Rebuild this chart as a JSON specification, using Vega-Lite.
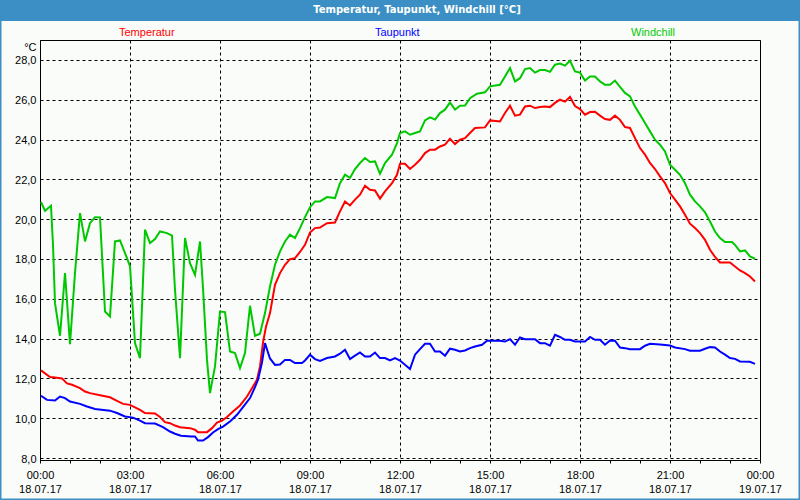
{
"$schema": "https://vega.github.io/schema/vega-lite/v6.json",
"width": 720, "height": 420,
"autosize": {"type": "none"},
"padding": {"left": 40, "top": 40, "right": 40, "bottom": 40},
"background": "#fafcfa",
"config": {"view": {"stroke": "#000000", "strokeWidth": 1}, "font": "Liberation Sans"},
"resolve": {"axis": {"x": "independent", "y": "independent"}},
"layer": [
{"data": {"values": [
{"t":"2017-07-18T00:02","s":"Temperatur","v":12.4},{"t":"2017-07-18T00:20","s":"Temperatur","v":12.07},{"t":"2017-07-18T00:30","s":"Temperatur","v":12.05},{"t":"2017-07-18T00:44","s":"Temperatur","v":12.0},{"t":"2017-07-18T00:54","s":"Temperatur","v":11.75},{"t":"2017-07-18T01:04","s":"Temperatur","v":11.68},{"t":"2017-07-18T01:20","s":"Temperatur","v":11.51},{"t":"2017-07-18T01:30","s":"Temperatur","v":11.34},{"t":"2017-07-18T01:40","s":"Temperatur","v":11.26},{"t":"2017-07-18T02:00","s":"Temperatur","v":11.15},{"t":"2017-07-18T02:20","s":"Temperatur","v":11.05},{"t":"2017-07-18T02:30","s":"Temperatur","v":10.92},{"t":"2017-07-18T02:46","s":"Temperatur","v":10.72},{"t":"2017-07-18T03:00","s":"Temperatur","v":10.67},{"t":"2017-07-18T03:20","s":"Temperatur","v":10.42},{"t":"2017-07-18T03:30","s":"Temperatur","v":10.26},{"t":"2017-07-18T03:50","s":"Temperatur","v":10.24},{"t":"2017-07-18T04:00","s":"Temperatur","v":10.06},{"t":"2017-07-18T04:10","s":"Temperatur","v":9.8},{"t":"2017-07-18T04:20","s":"Temperatur","v":9.75},{"t":"2017-07-18T04:30","s":"Temperatur","v":9.63},{"t":"2017-07-18T04:40","s":"Temperatur","v":9.55},{"t":"2017-07-18T05:00","s":"Temperatur","v":9.5},{"t":"2017-07-18T05:10","s":"Temperatur","v":9.42},{"t":"2017-07-18T05:16","s":"Temperatur","v":9.3},{"t":"2017-07-18T05:34","s":"Temperatur","v":9.3},{"t":"2017-07-18T05:44","s":"Temperatur","v":9.5},{"t":"2017-07-18T05:54","s":"Temperatur","v":9.78},{"t":"2017-07-18T06:04","s":"Temperatur","v":9.88},{"t":"2017-07-18T06:14","s":"Temperatur","v":10.06},{"t":"2017-07-18T06:26","s":"Temperatur","v":10.34},{"t":"2017-07-18T06:40","s":"Temperatur","v":10.64},{"t":"2017-07-18T06:54","s":"Temperatur","v":11.09},{"t":"2017-07-18T07:04","s":"Temperatur","v":11.51},{"t":"2017-07-18T07:14","s":"Temperatur","v":11.93},{"t":"2017-07-18T07:20","s":"Temperatur","v":12.6},{"t":"2017-07-18T07:26","s":"Temperatur","v":13.8},{"t":"2017-07-18T07:32","s":"Temperatur","v":14.6},{"t":"2017-07-18T07:40","s":"Temperatur","v":15.28},{"t":"2017-07-18T07:50","s":"Temperatur","v":16.7},{"t":"2017-07-18T08:00","s":"Temperatur","v":17.29},{"t":"2017-07-18T08:10","s":"Temperatur","v":17.71},{"t":"2017-07-18T08:20","s":"Temperatur","v":17.99},{"t":"2017-07-18T08:30","s":"Temperatur","v":18.04},{"t":"2017-07-18T08:40","s":"Temperatur","v":18.35},{"t":"2017-07-18T08:50","s":"Temperatur","v":18.71},{"t":"2017-07-18T09:00","s":"Temperatur","v":19.33},{"t":"2017-07-18T09:10","s":"Temperatur","v":19.55},{"t":"2017-07-18T09:20","s":"Temperatur","v":19.58},{"t":"2017-07-18T09:34","s":"Temperatur","v":19.8},{"t":"2017-07-18T09:50","s":"Temperatur","v":19.83},{"t":"2017-07-18T10:00","s":"Temperatur","v":20.39},{"t":"2017-07-18T10:10","s":"Temperatur","v":20.89},{"t":"2017-07-18T10:20","s":"Temperatur","v":20.69},{"t":"2017-07-18T10:30","s":"Temperatur","v":20.98},{"t":"2017-07-18T10:40","s":"Temperatur","v":21.23},{"t":"2017-07-18T10:50","s":"Temperatur","v":21.68},{"t":"2017-07-18T11:00","s":"Temperatur","v":21.48},{"t":"2017-07-18T11:10","s":"Temperatur","v":21.44},{"t":"2017-07-18T11:20","s":"Temperatur","v":21.03},{"t":"2017-07-18T11:30","s":"Temperatur","v":21.39},{"t":"2017-07-18T11:44","s":"Temperatur","v":21.81},{"t":"2017-07-18T11:54","s":"Temperatur","v":22.23},{"t":"2017-07-18T12:00","s":"Temperatur","v":22.78},{"t":"2017-07-18T12:10","s":"Temperatur","v":22.78},{"t":"2017-07-18T12:20","s":"Temperatur","v":22.52},{"t":"2017-07-18T12:30","s":"Temperatur","v":22.73},{"t":"2017-07-18T12:40","s":"Temperatur","v":22.98},{"t":"2017-07-18T12:50","s":"Temperatur","v":23.32},{"t":"2017-07-18T13:00","s":"Temperatur","v":23.49},{"t":"2017-07-18T13:10","s":"Temperatur","v":23.49},{"t":"2017-07-18T13:20","s":"Temperatur","v":23.65},{"t":"2017-07-18T13:30","s":"Temperatur","v":23.74},{"t":"2017-07-18T13:40","s":"Temperatur","v":24.04},{"t":"2017-07-18T13:50","s":"Temperatur","v":23.77},{"t":"2017-07-18T14:00","s":"Temperatur","v":23.99},{"t":"2017-07-18T14:10","s":"Temperatur","v":24.07},{"t":"2017-07-18T14:20","s":"Temperatur","v":24.33},{"t":"2017-07-18T14:30","s":"Temperatur","v":24.58},{"t":"2017-07-18T14:50","s":"Temperatur","v":24.61},{"t":"2017-07-18T15:00","s":"Temperatur","v":24.96},{"t":"2017-07-18T15:20","s":"Temperatur","v":24.91},{"t":"2017-07-18T15:30","s":"Temperatur","v":25.33},{"t":"2017-07-18T15:40","s":"Temperatur","v":25.7},{"t":"2017-07-18T15:50","s":"Temperatur","v":25.2},{"t":"2017-07-18T16:00","s":"Temperatur","v":25.25},{"t":"2017-07-18T16:10","s":"Temperatur","v":25.66},{"t":"2017-07-18T16:20","s":"Temperatur","v":25.7},{"t":"2017-07-18T16:30","s":"Temperatur","v":25.58},{"t":"2017-07-18T16:40","s":"Temperatur","v":25.63},{"t":"2017-07-18T16:50","s":"Temperatur","v":25.66},{"t":"2017-07-18T17:00","s":"Temperatur","v":25.63},{"t":"2017-07-18T17:10","s":"Temperatur","v":25.84},{"t":"2017-07-18T17:20","s":"Temperatur","v":26.0},{"t":"2017-07-18T17:30","s":"Temperatur","v":25.9},{"t":"2017-07-18T17:40","s":"Temperatur","v":26.14},{"t":"2017-07-18T17:50","s":"Temperatur","v":25.68},{"t":"2017-07-18T18:00","s":"Temperatur","v":25.53},{"t":"2017-07-18T18:10","s":"Temperatur","v":25.25},{"t":"2017-07-18T18:20","s":"Temperatur","v":25.38},{"t":"2017-07-18T18:30","s":"Temperatur","v":25.4},{"t":"2017-07-18T18:40","s":"Temperatur","v":25.2},{"t":"2017-07-18T18:50","s":"Temperatur","v":25.03},{"t":"2017-07-18T19:00","s":"Temperatur","v":24.99},{"t":"2017-07-18T19:10","s":"Temperatur","v":25.2},{"t":"2017-07-18T19:20","s":"Temperatur","v":24.99},{"t":"2017-07-18T19:30","s":"Temperatur","v":24.63},{"t":"2017-07-18T19:40","s":"Temperatur","v":24.58},{"t":"2017-07-18T19:50","s":"Temperatur","v":24.07},{"t":"2017-07-18T20:00","s":"Temperatur","v":23.57},{"t":"2017-07-18T20:10","s":"Temperatur","v":23.24},{"t":"2017-07-18T20:20","s":"Temperatur","v":22.82},{"t":"2017-07-18T20:30","s":"Temperatur","v":22.52},{"t":"2017-07-18T20:40","s":"Temperatur","v":22.15},{"t":"2017-07-18T20:50","s":"Temperatur","v":21.81},{"t":"2017-07-18T21:00","s":"Temperatur","v":21.31},{"t":"2017-07-18T21:10","s":"Temperatur","v":20.98},{"t":"2017-07-18T21:20","s":"Temperatur","v":20.64},{"t":"2017-07-18T21:30","s":"Temperatur","v":20.22},{"t":"2017-07-18T21:40","s":"Temperatur","v":19.77},{"t":"2017-07-18T21:50","s":"Temperatur","v":19.55},{"t":"2017-07-18T22:00","s":"Temperatur","v":19.3},{"t":"2017-07-18T22:10","s":"Temperatur","v":18.96},{"t":"2017-07-18T22:20","s":"Temperatur","v":18.46},{"t":"2017-07-18T22:30","s":"Temperatur","v":18.1},{"t":"2017-07-18T22:40","s":"Temperatur","v":17.82},{"t":"2017-07-18T23:00","s":"Temperatur","v":17.82},{"t":"2017-07-18T23:10","s":"Temperatur","v":17.62},{"t":"2017-07-18T23:20","s":"Temperatur","v":17.42},{"t":"2017-07-18T23:30","s":"Temperatur","v":17.29},{"t":"2017-07-18T23:40","s":"Temperatur","v":17.12},{"t":"2017-07-18T23:50","s":"Temperatur","v":16.87},
{"t":"2017-07-18T00:02","s":"Taupunkt","v":11.13},{"t":"2017-07-18T00:14","s":"Taupunkt","v":10.92},{"t":"2017-07-18T00:30","s":"Taupunkt","v":10.89},{"t":"2017-07-18T00:40","s":"Taupunkt","v":11.09},{"t":"2017-07-18T00:50","s":"Taupunkt","v":11.01},{"t":"2017-07-18T01:00","s":"Taupunkt","v":10.84},{"t":"2017-07-18T01:20","s":"Taupunkt","v":10.72},{"t":"2017-07-18T01:34","s":"Taupunkt","v":10.59},{"t":"2017-07-18T01:50","s":"Taupunkt","v":10.46},{"t":"2017-07-18T02:20","s":"Taupunkt","v":10.38},{"t":"2017-07-18T02:34","s":"Taupunkt","v":10.26},{"t":"2017-07-18T02:50","s":"Taupunkt","v":10.09},{"t":"2017-07-18T03:06","s":"Taupunkt","v":10.03},{"t":"2017-07-18T03:20","s":"Taupunkt","v":9.88},{"t":"2017-07-18T03:30","s":"Taupunkt","v":9.75},{"t":"2017-07-18T03:50","s":"Taupunkt","v":9.73},{"t":"2017-07-18T04:06","s":"Taupunkt","v":9.55},{"t":"2017-07-18T04:20","s":"Taupunkt","v":9.33},{"t":"2017-07-18T04:30","s":"Taupunkt","v":9.22},{"t":"2017-07-18T04:42","s":"Taupunkt","v":9.12},{"t":"2017-07-18T05:02","s":"Taupunkt","v":9.08},{"t":"2017-07-18T05:10","s":"Taupunkt","v":9.08},{"t":"2017-07-18T05:16","s":"Taupunkt","v":8.88},{"t":"2017-07-18T05:26","s":"Taupunkt","v":8.88},{"t":"2017-07-18T05:36","s":"Taupunkt","v":9.05},{"t":"2017-07-18T05:46","s":"Taupunkt","v":9.28},{"t":"2017-07-18T05:56","s":"Taupunkt","v":9.45},{"t":"2017-07-18T06:06","s":"Taupunkt","v":9.58},{"t":"2017-07-18T06:20","s":"Taupunkt","v":9.83},{"t":"2017-07-18T06:34","s":"Taupunkt","v":10.17},{"t":"2017-07-18T06:46","s":"Taupunkt","v":10.56},{"t":"2017-07-18T07:00","s":"Taupunkt","v":11.01},{"t":"2017-07-18T07:10","s":"Taupunkt","v":11.56},{"t":"2017-07-18T07:16","s":"Taupunkt","v":11.93},{"t":"2017-07-18T07:24","s":"Taupunkt","v":12.8},{"t":"2017-07-18T07:30","s":"Taupunkt","v":13.77},{"t":"2017-07-18T07:36","s":"Taupunkt","v":13.3},{"t":"2017-07-18T07:40","s":"Taupunkt","v":13.0},{"t":"2017-07-18T07:50","s":"Taupunkt","v":12.68},{"t":"2017-07-18T08:00","s":"Taupunkt","v":12.7},{"t":"2017-07-18T08:10","s":"Taupunkt","v":12.93},{"t":"2017-07-18T08:20","s":"Taupunkt","v":12.93},{"t":"2017-07-18T08:30","s":"Taupunkt","v":12.77},{"t":"2017-07-18T08:44","s":"Taupunkt","v":12.77},{"t":"2017-07-18T08:50","s":"Taupunkt","v":12.9},{"t":"2017-07-18T09:00","s":"Taupunkt","v":13.19},{"t":"2017-07-18T09:10","s":"Taupunkt","v":12.97},{"t":"2017-07-18T09:20","s":"Taupunkt","v":12.88},{"t":"2017-07-18T09:34","s":"Taupunkt","v":13.02},{"t":"2017-07-18T09:50","s":"Taupunkt","v":13.1},{"t":"2017-07-18T10:00","s":"Taupunkt","v":13.24},{"t":"2017-07-18T10:10","s":"Taupunkt","v":13.44},{"t":"2017-07-18T10:20","s":"Taupunkt","v":12.97},{"t":"2017-07-18T10:30","s":"Taupunkt","v":13.14},{"t":"2017-07-18T10:40","s":"Taupunkt","v":13.3},{"t":"2017-07-18T10:50","s":"Taupunkt","v":13.1},{"t":"2017-07-18T11:00","s":"Taupunkt","v":13.1},{"t":"2017-07-18T11:10","s":"Taupunkt","v":13.3},{"t":"2017-07-18T11:20","s":"Taupunkt","v":13.02},{"t":"2017-07-18T11:30","s":"Taupunkt","v":13.02},{"t":"2017-07-18T11:40","s":"Taupunkt","v":12.9},{"t":"2017-07-18T11:50","s":"Taupunkt","v":13.02},{"t":"2017-07-18T12:00","s":"Taupunkt","v":12.9},{"t":"2017-07-18T12:10","s":"Taupunkt","v":12.68},{"t":"2017-07-18T12:20","s":"Taupunkt","v":12.47},{"t":"2017-07-18T12:30","s":"Taupunkt","v":13.19},{"t":"2017-07-18T12:40","s":"Taupunkt","v":13.47},{"t":"2017-07-18T12:50","s":"Taupunkt","v":13.74},{"t":"2017-07-18T13:00","s":"Taupunkt","v":13.74},{"t":"2017-07-18T13:10","s":"Taupunkt","v":13.35},{"t":"2017-07-18T13:20","s":"Taupunkt","v":13.35},{"t":"2017-07-18T13:30","s":"Taupunkt","v":13.14},{"t":"2017-07-18T13:40","s":"Taupunkt","v":13.49},{"t":"2017-07-18T13:50","s":"Taupunkt","v":13.44},{"t":"2017-07-18T14:00","s":"Taupunkt","v":13.35},{"t":"2017-07-18T14:10","s":"Taupunkt","v":13.4},{"t":"2017-07-18T14:20","s":"Taupunkt","v":13.52},{"t":"2017-07-18T14:30","s":"Taupunkt","v":13.6},{"t":"2017-07-18T14:44","s":"Taupunkt","v":13.69},{"t":"2017-07-18T14:54","s":"Taupunkt","v":13.89},{"t":"2017-07-18T15:20","s":"Taupunkt","v":13.89},{"t":"2017-07-18T15:30","s":"Taupunkt","v":13.85},{"t":"2017-07-18T15:40","s":"Taupunkt","v":13.97},{"t":"2017-07-18T15:50","s":"Taupunkt","v":13.69},{"t":"2017-07-18T16:00","s":"Taupunkt","v":14.06},{"t":"2017-07-18T16:10","s":"Taupunkt","v":13.97},{"t":"2017-07-18T16:30","s":"Taupunkt","v":13.97},{"t":"2017-07-18T16:40","s":"Taupunkt","v":13.77},{"t":"2017-07-18T16:50","s":"Taupunkt","v":13.77},{"t":"2017-07-18T17:00","s":"Taupunkt","v":13.64},{"t":"2017-07-18T17:10","s":"Taupunkt","v":14.19},{"t":"2017-07-18T17:20","s":"Taupunkt","v":14.08},{"t":"2017-07-18T17:30","s":"Taupunkt","v":13.94},{"t":"2017-07-18T17:40","s":"Taupunkt","v":13.94},{"t":"2017-07-18T17:50","s":"Taupunkt","v":13.85},{"t":"2017-07-18T18:10","s":"Taupunkt","v":13.85},{"t":"2017-07-18T18:20","s":"Taupunkt","v":14.08},{"t":"2017-07-18T18:30","s":"Taupunkt","v":13.94},{"t":"2017-07-18T18:40","s":"Taupunkt","v":13.94},{"t":"2017-07-18T18:50","s":"Taupunkt","v":13.69},{"t":"2017-07-18T19:00","s":"Taupunkt","v":13.9},{"t":"2017-07-18T19:10","s":"Taupunkt","v":13.89},{"t":"2017-07-18T19:20","s":"Taupunkt","v":13.55},{"t":"2017-07-18T19:30","s":"Taupunkt","v":13.52},{"t":"2017-07-18T19:40","s":"Taupunkt","v":13.47},{"t":"2017-07-18T20:00","s":"Taupunkt","v":13.47},{"t":"2017-07-18T20:10","s":"Taupunkt","v":13.64},{"t":"2017-07-18T20:20","s":"Taupunkt","v":13.74},{"t":"2017-07-18T20:40","s":"Taupunkt","v":13.7},{"t":"2017-07-18T21:00","s":"Taupunkt","v":13.65},{"t":"2017-07-18T21:10","s":"Taupunkt","v":13.55},{"t":"2017-07-18T21:30","s":"Taupunkt","v":13.47},{"t":"2017-07-18T21:40","s":"Taupunkt","v":13.39},{"t":"2017-07-18T22:00","s":"Taupunkt","v":13.39},{"t":"2017-07-18T22:10","s":"Taupunkt","v":13.49},{"t":"2017-07-18T22:20","s":"Taupunkt","v":13.57},{"t":"2017-07-18T22:30","s":"Taupunkt","v":13.55},{"t":"2017-07-18T22:40","s":"Taupunkt","v":13.35},{"t":"2017-07-18T22:50","s":"Taupunkt","v":13.19},{"t":"2017-07-18T23:00","s":"Taupunkt","v":13.02},{"t":"2017-07-18T23:10","s":"Taupunkt","v":12.98},{"t":"2017-07-18T23:20","s":"Taupunkt","v":12.85},{"t":"2017-07-18T23:40","s":"Taupunkt","v":12.83},{"t":"2017-07-18T23:50","s":"Taupunkt","v":12.73},
{"t":"2017-07-18T00:02","s":"Windchill","v":20.86},{"t":"2017-07-18T00:10","s":"Windchill","v":20.42},{"t":"2017-07-18T00:22","s":"Windchill","v":20.67},{"t":"2017-07-18T00:26","s":"Windchill","v":18.71},{"t":"2017-07-18T00:30","s":"Windchill","v":15.78},{"t":"2017-07-18T00:40","s":"Windchill","v":14.14},{"t":"2017-07-18T00:50","s":"Windchill","v":17.29},{"t":"2017-07-18T01:00","s":"Windchill","v":13.72},{"t":"2017-07-18T01:10","s":"Windchill","v":17.3},{"t":"2017-07-18T01:20","s":"Windchill","v":20.3},{"t":"2017-07-18T01:30","s":"Windchill","v":18.88},{"t":"2017-07-18T01:40","s":"Windchill","v":19.8},{"t":"2017-07-18T01:50","s":"Windchill","v":20.1},{"t":"2017-07-18T02:00","s":"Windchill","v":20.09},{"t":"2017-07-18T02:10","s":"Windchill","v":15.36},{"t":"2017-07-18T02:20","s":"Windchill","v":15.11},{"t":"2017-07-18T02:30","s":"Windchill","v":18.88},{"t":"2017-07-18T02:40","s":"Windchill","v":18.93},{"t":"2017-07-18T02:54","s":"Windchill","v":18.04},{"t":"2017-07-18T03:00","s":"Windchill","v":17.62},{"t":"2017-07-18T03:10","s":"Windchill","v":13.77},{"t":"2017-07-18T03:20","s":"Windchill","v":13.02},{"t":"2017-07-18T03:30","s":"Windchill","v":19.47},{"t":"2017-07-18T03:40","s":"Windchill","v":18.8},{"t":"2017-07-18T03:50","s":"Windchill","v":19.0},{"t":"2017-07-18T04:00","s":"Windchill","v":19.38},{"t":"2017-07-18T04:14","s":"Windchill","v":19.3},{"t":"2017-07-18T04:24","s":"Windchill","v":19.17},{"t":"2017-07-18T04:30","s":"Windchill","v":16.45},{"t":"2017-07-18T04:40","s":"Windchill","v":13.02},{"t":"2017-07-18T04:50","s":"Windchill","v":19.05},{"t":"2017-07-18T05:00","s":"Windchill","v":17.79},{"t":"2017-07-18T05:10","s":"Windchill","v":17.2},{"t":"2017-07-18T05:20","s":"Windchill","v":18.88},{"t":"2017-07-18T05:26","s":"Windchill","v":16.54},{"t":"2017-07-18T05:34","s":"Windchill","v":12.93},{"t":"2017-07-18T05:40","s":"Windchill","v":11.26},{"t":"2017-07-18T05:50","s":"Windchill","v":12.6},{"t":"2017-07-18T06:00","s":"Windchill","v":15.36},{"t":"2017-07-18T06:10","s":"Windchill","v":15.33},{"t":"2017-07-18T06:20","s":"Windchill","v":13.35},{"t":"2017-07-18T06:30","s":"Windchill","v":13.27},{"t":"2017-07-18T06:40","s":"Windchill","v":12.52},{"t":"2017-07-18T06:50","s":"Windchill","v":13.27},{"t":"2017-07-18T07:00","s":"Windchill","v":15.65},{"t":"2017-07-18T07:10","s":"Windchill","v":14.14},{"t":"2017-07-18T07:20","s":"Windchill","v":14.24},{"t":"2017-07-18T07:30","s":"Windchill","v":15.28},{"t":"2017-07-18T07:40","s":"Windchill","v":16.62},{"t":"2017-07-18T07:50","s":"Windchill","v":17.71},{"t":"2017-07-18T08:00","s":"Windchill","v":18.38},{"t":"2017-07-18T08:10","s":"Windchill","v":18.88},{"t":"2017-07-18T08:20","s":"Windchill","v":19.22},{"t":"2017-07-18T08:30","s":"Windchill","v":19.05},{"t":"2017-07-18T08:40","s":"Windchill","v":19.55},{"t":"2017-07-18T08:50","s":"Windchill","v":20.1},{"t":"2017-07-18T09:00","s":"Windchill","v":20.6},{"t":"2017-07-18T09:10","s":"Windchill","v":20.89},{"t":"2017-07-18T09:20","s":"Windchill","v":20.89},{"t":"2017-07-18T09:34","s":"Windchill","v":21.11},{"t":"2017-07-18T09:50","s":"Windchill","v":21.06},{"t":"2017-07-18T10:00","s":"Windchill","v":21.81},{"t":"2017-07-18T10:10","s":"Windchill","v":22.23},{"t":"2017-07-18T10:20","s":"Windchill","v":22.07},{"t":"2017-07-18T10:30","s":"Windchill","v":22.52},{"t":"2017-07-18T10:40","s":"Windchill","v":22.82},{"t":"2017-07-18T10:50","s":"Windchill","v":23.07},{"t":"2017-07-18T11:00","s":"Windchill","v":22.87},{"t":"2017-07-18T11:10","s":"Windchill","v":22.9},{"t":"2017-07-18T11:20","s":"Windchill","v":22.28},{"t":"2017-07-18T11:30","s":"Windchill","v":22.82},{"t":"2017-07-18T11:44","s":"Windchill","v":23.24},{"t":"2017-07-18T11:54","s":"Windchill","v":23.82},{"t":"2017-07-18T12:00","s":"Windchill","v":24.33},{"t":"2017-07-18T12:10","s":"Windchill","v":24.41},{"t":"2017-07-18T12:20","s":"Windchill","v":24.24},{"t":"2017-07-18T12:30","s":"Windchill","v":24.33},{"t":"2017-07-18T12:40","s":"Windchill","v":24.41},{"t":"2017-07-18T12:50","s":"Windchill","v":24.96},{"t":"2017-07-18T13:00","s":"Windchill","v":25.11},{"t":"2017-07-18T13:10","s":"Windchill","v":25.0},{"t":"2017-07-18T13:20","s":"Windchill","v":25.33},{"t":"2017-07-18T13:30","s":"Windchill","v":25.5},{"t":"2017-07-18T13:40","s":"Windchill","v":25.86},{"t":"2017-07-18T13:50","s":"Windchill","v":25.5},{"t":"2017-07-18T14:00","s":"Windchill","v":25.7},{"t":"2017-07-18T14:10","s":"Windchill","v":25.71},{"t":"2017-07-18T14:20","s":"Windchill","v":26.08},{"t":"2017-07-18T14:34","s":"Windchill","v":26.3},{"t":"2017-07-18T14:50","s":"Windchill","v":26.37},{"t":"2017-07-18T15:00","s":"Windchill","v":26.67},{"t":"2017-07-18T15:20","s":"Windchill","v":26.75},{"t":"2017-07-18T15:30","s":"Windchill","v":27.17},{"t":"2017-07-18T15:40","s":"Windchill","v":27.59},{"t":"2017-07-18T15:50","s":"Windchill","v":26.92},{"t":"2017-07-18T16:00","s":"Windchill","v":27.08},{"t":"2017-07-18T16:10","s":"Windchill","v":27.54},{"t":"2017-07-18T16:20","s":"Windchill","v":27.59},{"t":"2017-07-18T16:30","s":"Windchill","v":27.36},{"t":"2017-07-18T16:40","s":"Windchill","v":27.49},{"t":"2017-07-18T16:50","s":"Windchill","v":27.49},{"t":"2017-07-18T17:00","s":"Windchill","v":27.4},{"t":"2017-07-18T17:10","s":"Windchill","v":27.76},{"t":"2017-07-18T17:20","s":"Windchill","v":27.82},{"t":"2017-07-18T17:30","s":"Windchill","v":27.71},{"t":"2017-07-18T17:40","s":"Windchill","v":27.96},{"t":"2017-07-18T17:50","s":"Windchill","v":27.42},{"t":"2017-07-18T18:00","s":"Windchill","v":27.36},{"t":"2017-07-18T18:10","s":"Windchill","v":26.96},{"t":"2017-07-18T18:20","s":"Windchill","v":27.17},{"t":"2017-07-18T18:30","s":"Windchill","v":27.17},{"t":"2017-07-18T18:40","s":"Windchill","v":26.92},{"t":"2017-07-18T18:50","s":"Windchill","v":26.75},{"t":"2017-07-18T19:00","s":"Windchill","v":26.75},{"t":"2017-07-18T19:10","s":"Windchill","v":26.96},{"t":"2017-07-18T19:20","s":"Windchill","v":26.65},{"t":"2017-07-18T19:30","s":"Windchill","v":26.34},{"t":"2017-07-18T19:40","s":"Windchill","v":26.17},{"t":"2017-07-18T19:50","s":"Windchill","v":25.66},{"t":"2017-07-18T20:00","s":"Windchill","v":25.25},{"t":"2017-07-18T20:10","s":"Windchill","v":24.83},{"t":"2017-07-18T20:20","s":"Windchill","v":24.41},{"t":"2017-07-18T20:30","s":"Windchill","v":23.99},{"t":"2017-07-18T20:40","s":"Windchill","v":23.74},{"t":"2017-07-18T20:50","s":"Windchill","v":23.4},{"t":"2017-07-18T21:00","s":"Windchill","v":22.73},{"t":"2017-07-18T21:10","s":"Windchill","v":22.48},{"t":"2017-07-18T21:20","s":"Windchill","v":22.23},{"t":"2017-07-18T21:30","s":"Windchill","v":21.81},{"t":"2017-07-18T21:40","s":"Windchill","v":21.23},{"t":"2017-07-18T21:50","s":"Windchill","v":20.89},{"t":"2017-07-18T22:00","s":"Windchill","v":20.64},{"t":"2017-07-18T22:10","s":"Windchill","v":20.34},{"t":"2017-07-18T22:20","s":"Windchill","v":19.88},{"t":"2017-07-18T22:30","s":"Windchill","v":19.38},{"t":"2017-07-18T22:40","s":"Windchill","v":19.05},{"t":"2017-07-18T22:50","s":"Windchill","v":18.85},{"t":"2017-07-18T23:04","s":"Windchill","v":18.85},{"t":"2017-07-18T23:10","s":"Windchill","v":18.71},{"t":"2017-07-18T23:20","s":"Windchill","v":18.38},{"t":"2017-07-18T23:30","s":"Windchill","v":18.43},{"t":"2017-07-18T23:40","s":"Windchill","v":18.13},{"t":"2017-07-18T23:50","s":"Windchill","v":18.01}
]},
 "mark": {"type": "line", "strokeWidth": 2},
 "encoding": {
  "x": {"field": "t", "type": "temporal",
   "scale": {"domain": [{"year": 2017, "month": 7, "date": 18}, {"year": 2017, "month": 7, "date": 19}], "nice": false},
   "axis": {"title": null, "values": [
     {"year":2017,"month":7,"date":18,"hours":0},{"year":2017,"month":7,"date":18,"hours":1},{"year":2017,"month":7,"date":18,"hours":2},{"year":2017,"month":7,"date":18,"hours":3},{"year":2017,"month":7,"date":18,"hours":4},{"year":2017,"month":7,"date":18,"hours":5},{"year":2017,"month":7,"date":18,"hours":6},{"year":2017,"month":7,"date":18,"hours":7},{"year":2017,"month":7,"date":18,"hours":8},{"year":2017,"month":7,"date":18,"hours":9},{"year":2017,"month":7,"date":18,"hours":10},{"year":2017,"month":7,"date":18,"hours":11},{"year":2017,"month":7,"date":18,"hours":12},{"year":2017,"month":7,"date":18,"hours":13},{"year":2017,"month":7,"date":18,"hours":14},{"year":2017,"month":7,"date":18,"hours":15},{"year":2017,"month":7,"date":18,"hours":16},{"year":2017,"month":7,"date":18,"hours":17},{"year":2017,"month":7,"date":18,"hours":18},{"year":2017,"month":7,"date":18,"hours":19},{"year":2017,"month":7,"date":18,"hours":20},{"year":2017,"month":7,"date":18,"hours":21},{"year":2017,"month":7,"date":18,"hours":22},{"year":2017,"month":7,"date":18,"hours":23},{"year":2017,"month":7,"date":19,"hours":0}],
    "grid": true, "gridColor": "#000000", "gridDash": [3, 3],
    "gridOpacity": {"condition": {"test": "hours(datum.value) % 3 == 0", "value": 1}, "value": 0},
    "domainColor": "#000000", "tickColor": "#000000", "tickSize": 3, "labelColor": "#000000", "labelFont": "Liberation Sans", "labelFontSize": 11,
    "labelPadding": 6, "labelLineHeight": 14, "labelOverlap": false, "labelFlush": false, "labelBound": false,
    "labelExpr": "hours(datum.value) % 3 == 0 ? [timeFormat(datum.value, '%H:%M'), timeFormat(datum.value, '%d.%m.%y')] : ''"}},
  "y": {"field": "v", "type": "quantitative",
   "scale": {"domain": [7.9, 29.0], "nice": false, "zero": false},
   "axis": {"title": "°C", "titleAngle": 0, "titleX": -4, "titleY": 10, "titleAlign": "right", "titleBaseline": "alphabetic", "titleFontWeight": "normal", "titleFont": "Liberation Sans", "titleFontSize": 11, "titleColor": "#000000",
    "values": [8, 10, 12, 14, 16, 18, 20, 22, 24, 26, 28], "ticks": false, "tickSize": 0, "labelPadding": 4,
    "labelExpr": "replace(format(datum.value, '.1f'), '.', ',')", "grid": true, "gridColor": "#000000", "gridDash": [3, 3],
    "domainColor": "#000000", "labelColor": "#000000", "labelFont": "Liberation Sans", "labelFontSize": 11, "labelOffset": 1}},
  "color": {"field": "s", "type": "nominal",
   "scale": {"domain": ["Temperatur", "Taupunkt", "Windchill"], "range": ["#ff0000", "#0000ff", "#00c800"]},
   "legend": {"orient": "none", "legendX": 68, "legendY": -13, "direction": "horizontal", "columns": 3, "gridAlign": "all", "columnPadding": 189,
    "title": null, "symbolSize": 0, "symbolStrokeWidth": 0, "symbolOpacity": 0, "labelOffset": 0, "labelFont": "Liberation Sans", "labelFontSize": 11, "padding": 0,
    "encode": {"labels": {"update": {"fill": {"scale": "color", "field": "value"}}}}}}
 }},
{"data": {"values": [{}]}, "mark": {"type": "rect", "fill": "#3b8fc4", "clip": false},
 "encoding": {
  "x": {"datum": {"year": 2017, "month": 7, "date": 17, "hours": 22, "minutes": 30}, "type": "temporal", "axis": null},
  "x2": {"datum": {"year": 2017, "month": 7, "date": 19, "hours": 1, "minutes": 30}},
  "y": {"datum": 31.3, "type": "quantitative", "axis": null},
  "y2": {"datum": 29.96}}},
{"data": {"values": [{}]}, "mark": {"type": "rect", "fill": "transparent", "stroke": "#3b8fc4", "strokeWidth": 3, "clip": false},
 "encoding": {
  "x": {"datum": {"year": 2017, "month": 7, "date": 17, "hours": 22, "minutes": 40}, "type": "temporal", "axis": null},
  "x2": {"datum": {"year": 2017, "month": 7, "date": 19, "hours": 1, "minutes": 20}},
  "y": {"datum": 31.01, "type": "quantitative", "axis": null},
  "y2": {"datum": 5.89}}},
{"data": {"values": [{}]}, "mark": {"type": "text", "fill": "#ffffff", "font": "DejaVu Sans", "fontWeight": "bold", "fontSize": 10, "align": "center", "baseline": "middle", "clip": false},
 "encoding": {
  "x": {"datum": {"year": 2017, "month": 7, "date": 18, "hours": 12, "minutes": 34}, "type": "temporal", "axis": null},
  "y": {"datum": 30.5, "type": "quantitative", "axis": null},
  "text": {"value": "Temperatur, Taupunkt, Windchill [°C]"}}}
]
}
